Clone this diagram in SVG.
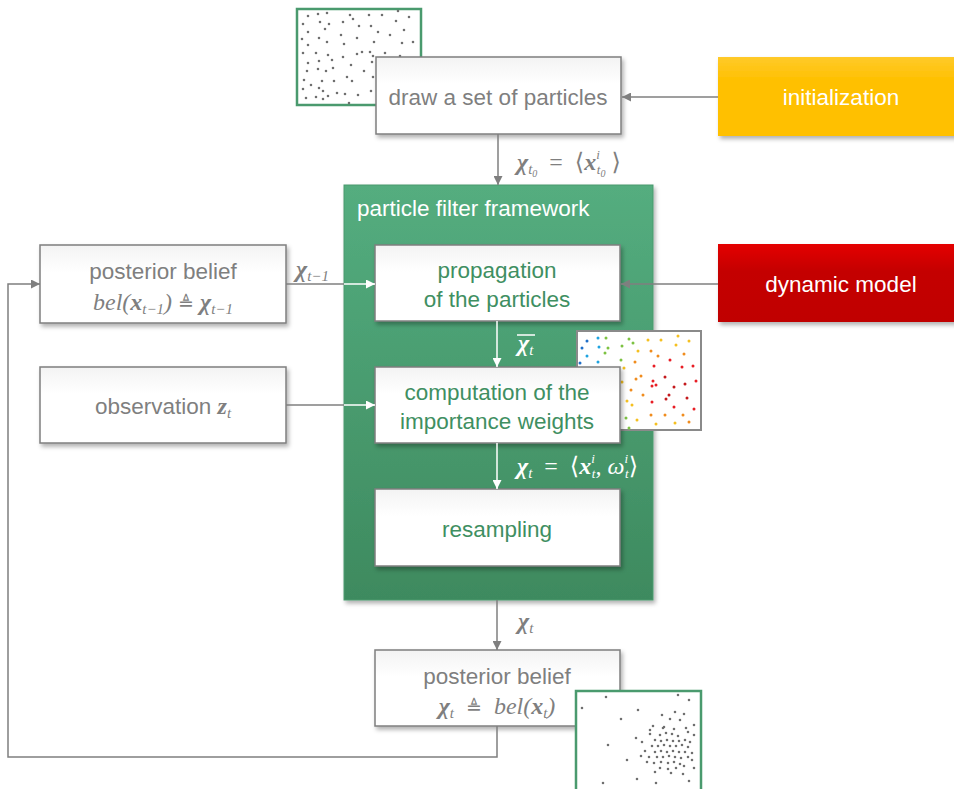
<svg xmlns="http://www.w3.org/2000/svg" width="954" height="789" viewBox="0 0 954 789">
  <defs>
    <style>
      .box { fill: url(#whiteGrad); stroke: #7f7f7f; stroke-width: 1.5; filter: url(#shadow); }
      .lbl { font-family: "Liberation Sans", Arial, sans-serif; font-size: 22.5px; text-anchor: middle; }
      .gray { fill: #7f7f7f; }
      .green { fill: #3f8f62; }
      .white { fill: #ffffff; }
      .math { font-family: "Liberation Serif", "DejaVu Serif", "Times New Roman", serif; font-style: italic; font-size: 24px; }
      .up { font-style: normal; }
      .eq { font-family: "DejaVu Sans", sans-serif; font-style: normal; font-size: 19px; }
      .b { font-weight: bold; }
      .sub { font-size: 15px; }
      .sc { font-size: 13px; }
      .ss { font-size: 10px; }
      .conn { fill: none; stroke: #7f7f7f; stroke-width: 1.5; }
      .connW { fill: none; stroke: #ffffff; stroke-width: 1.5; }
      .frame { fill: #ffffff; stroke: #4a9a6e; stroke-width: 2.5; }
      .dots { fill: none; stroke: #6f6f6f; stroke-width: 2.6; stroke-linecap: round; }
    </style>
    <linearGradient id="whiteGrad" x1="0" y1="0" x2="0" y2="1">
      <stop offset="0" stop-color="#f3f3f3"/>
      <stop offset="0.35" stop-color="#ffffff"/>
      <stop offset="1" stop-color="#ffffff"/>
    </linearGradient>
    <linearGradient id="greenGrad" x1="0" y1="0" x2="0" y2="1">
      <stop offset="0" stop-color="#54ad7f"/>
      <stop offset="1" stop-color="#3e8a5f"/>
    </linearGradient>
    <linearGradient id="yellowGrad" x1="0" y1="0" x2="0" y2="1">
      <stop offset="0" stop-color="#ffca2a"/>
      <stop offset="0.3" stop-color="#ffc000"/>
      <stop offset="1" stop-color="#ffc000"/>
    </linearGradient>
    <linearGradient id="redGrad" x1="0" y1="0" x2="0" y2="1">
      <stop offset="0" stop-color="#e40000"/>
      <stop offset="0.35" stop-color="#c40000"/>
      <stop offset="1" stop-color="#c00000"/>
    </linearGradient>
    <filter id="shadow" x="-10%" y="-10%" width="125%" height="135%">
      <feDropShadow dx="2" dy="3" stdDeviation="2" flood-color="#000" flood-opacity="0.3"/>
    </filter>
    <marker id="arrG" viewBox="0 0 10 10" refX="10" refY="5" markerWidth="9" markerHeight="9" markerUnits="userSpaceOnUse" orient="auto">
      <path d="M0 0 L10 5 L0 10 z" fill="#7f7f7f"/>
    </marker>
    <marker id="arrW" viewBox="0 0 10 10" refX="10" refY="5" markerWidth="9" markerHeight="9" markerUnits="userSpaceOnUse" orient="auto">
      <path d="M0 0 L10 5 L0 10 z" fill="#ffffff"/>
    </marker>
  </defs>

  <rect width="954" height="789" fill="#ffffff"/>

  <!-- initial particle cloud -->
  <g id="particles-initial">
    <rect class="frame" x="297" y="9" width="124" height="96"/>
    <path class="dots" d="M308 16h0M318 14h0M327 13h0M350 15h0M353 19h0M369 15h0M382 15h0M398 11h0M409 17h0M303 24h0M320 22h0M329 24h0M343 22h0M359 26h0M371 26h0M396 21h0M404 30h0M308 32h0M325 29h0M341 35h0M378 32h0M390 35h0M302 39h0M319 38h0M327 42h0M344 44h0M357 38h0M374 42h0M402 43h0M413 42h0M308 45h0M303 53h0M316 53h0M328 55h0M343 57h0M357 54h0M362 52h0M373 56h0M385 53h0M400 56h0M370 52h0M308 63h0M319 61h0M332 60h0M351 65h0M372 62h0M307 71h0M318 69h0M326 71h0M333 68h0M364 71h0M347 77h0M352 81h0M373 77h0M304 80h0M322 81h0M334 81h0M311 85h0M303 89h0M319 88h0M323 91h0M337 93h0M345 94h0M358 95h0M371 91h0M306 98h0M316 97h0M323 99h0M328 96h0M349 103h0"/>
  </g>

  <!-- draw a set of particles -->
  <g id="draw">
    <rect class="box" x="376" y="57" width="245" height="77"/>
    <text class="lbl gray" x="498" y="105">draw a set of particles</text>
  </g>

  <!-- initialization -->
  <g id="initialization">
    <rect x="718" y="57" width="240" height="79" fill="url(#yellowGrad)" filter="url(#shadow)"/>
    <text class="lbl white" x="841" y="105">initialization</text>
  </g>

  <!-- particle filter framework -->
  <g id="framework">
    <rect x="344" y="185" width="309" height="415" fill="url(#greenGrad)" stroke="#4a9a6e" stroke-width="1" filter="url(#shadow)"/>
    <text class="lbl white" x="357" y="216" style="text-anchor:start">particle filter framework</text>
  </g>

  <!-- weighted particle cloud -->
  <g id="particles-weighted">
    <rect x="577" y="331" width="124" height="99" fill="#ffffff" stroke="#8a8a8a" stroke-width="2"/>
    <g stroke-width="3" stroke-linecap="round" fill="none">
      <path stroke="#1f6fc9" d="M587 341h0M582 348h0M580 363h0"/>
      <path stroke="#1fa3e0" d="M598 338h0M599 347h0M587 356h0M598 362h0"/>
      <path stroke="#7dc242" d="M606 338h0M608 348h0M629 339h0M633 343h0M622 346h0M605 353h0M621 360h0M626 418h0M629 428h0"/>
      <path stroke="#f5c020" d="M648 340h0M661 340h0M678 336h0M689 341h0M676 345h0M638 351h0M624 368h0M622 382h0M627 401h0M632 405h0M637 420h0M656 424h0M675 423h0"/>
      <path stroke="#f08c1e" d="M651 351h0M658 356h0M684 354h0M635 362h0M641 376h0M636 379h0M631 390h0M643 395h0M651 415h0M665 415h0M683 415h0M689 422h0"/>
      <path stroke="#e81e25" d="M670 360h0M654 366h0M682 367h0M693 366h0M653 381h0M696 381h0M656 385h0M652 386h0M652 402h0M674 407h0M694 409h0"/>
      <path stroke="#c41a1e" d="M665 377h0M685 384h0M674 387h0M669 395h0M666 399h0M687 398h0"/>
    </g>
  </g>

  <!-- propagation -->
  <g id="propagation">
    <rect class="box" x="375" y="245" width="245" height="76"/>
    <text class="lbl green" x="497" y="278">propagation</text>
    <text class="lbl green" x="497" y="307">of the particles</text>
  </g>

  <!-- dynamic model -->
  <g id="dynamic-model">
    <rect x="718" y="244" width="240" height="78" fill="url(#redGrad)" filter="url(#shadow)"/>
    <text class="lbl white" x="841" y="292">dynamic model</text>
  </g>

  <!-- prior posterior belief -->
  <g id="posterior-prev">
    <rect class="box" x="40" y="245" width="246" height="78"/>
    <text class="lbl gray" x="163" y="279">posterior belief</text>
    <text class="math gray" x="163" y="310" text-anchor="middle">bel(<tspan class="b">x</tspan><tspan class="sub" dy="4">t−1</tspan><tspan dy="-4">)&#160;</tspan><tspan class="eq">≜</tspan><tspan>&#160;</tspan><tspan class="b">χ</tspan><tspan class="sub" dy="4">t−1</tspan></text>
  </g>

  <!-- importance weights -->
  <g id="computation">
    <rect class="box" x="375" y="367" width="245" height="76"/>
    <text class="lbl green" x="497" y="400">computation of the</text>
    <text class="lbl green" x="497" y="429">importance weights</text>
  </g>

  <!-- observation -->
  <g id="observation">
    <rect class="box" x="40" y="367" width="246" height="76"/>
    <text class="lbl gray" x="163" y="414"><tspan>observation&#160;</tspan><tspan class="math b">z</tspan><tspan class="math sub" dy="4">t</tspan></text>
  </g>

  <!-- resampling -->
  <g id="resampling">
    <rect class="box" x="375" y="489" width="245" height="77"/>
    <text class="lbl green" x="497" y="537">resampling</text>
  </g>

  <!-- resulting posterior belief -->
  <g id="posterior-new">
    <rect class="box" x="375" y="650" width="245" height="76"/>
    <text class="lbl gray" x="497" y="684">posterior belief</text>
    <text class="math gray" x="497" y="714" text-anchor="middle"><tspan class="b">χ</tspan><tspan class="sub" dy="4">t</tspan><tspan dy="-4">&#160;&#160;</tspan><tspan class="eq">≜</tspan><tspan>&#160;&#160;bel(</tspan><tspan class="b">x</tspan><tspan class="sub" dy="4">t</tspan><tspan dy="-4">)</tspan></text>
  </g>

  <!-- resampled particle cloud -->
  <g id="particles-resampled">
    <rect class="frame" x="576" y="691" width="125" height="102"/>
    <path class="dots" d="M606 697h0M678 695h0M689 700h0M582 708h0M638 710h0M621 719h0M662 715h0M675 712h0M684 714h0M670 719h0M680 720h0M694 725h0M653 726h0M663 728h0M674 729h0M688 732h0M650 734h0M636 738h0M694 735h0M608 745h0M627 760h0M603 783h0M637 779h0M656 783h0M689 781h0M683 774h0M694 768h0M660 735h0M666 733h0M672 734h0M678 736h0M655 740h0M661 741h0M667 740h0M673 741h0M679 741h0M685 740h0M652 746h0M658 746h0M664 745h0M670 746h0M676 746h0M682 745h0M688 747h0M655 752h0M661 751h0M667 752h0M673 751h0M679 752h0M685 752h0M649 757h0M657 757h0M663 757h0M669 756h0M675 757h0M681 758h0M688 757h0M654 763h0M661 762h0M668 763h0M674 762h0M680 764h0M645 751h0M647 762h0M660 768h0M668 769h0M676 768h0M684 766h0M692 760h0M642 742h0M690 742h0M650 730h0M686 728h0M664 727h0M655 772h0M671 773h0M692 753h0M641 756h0"/>
  </g>

  <!-- connectors -->
  <g id="connectors">
    <path class="conn" d="M718 97 H622" marker-end="url(#arrG)"/>
    <path class="conn" d="M498 134 V185" marker-end="url(#arrG)"/>
    <path class="conn" d="M718 284 H621" marker-end="url(#arrG)"/>
    <path class="conn" d="M286 284 H344"/>
    <path class="connW" d="M344 284 H375" marker-end="url(#arrW)"/>
    <path class="conn" d="M286 405 H344"/>
    <path class="connW" d="M344 405 H375" marker-end="url(#arrW)"/>
    <path class="connW" d="M497 321 V367" marker-end="url(#arrW)"/>
    <path class="connW" d="M497 443 V489" marker-end="url(#arrW)"/>
    <path class="conn" d="M497 600 V650" marker-end="url(#arrG)"/>
    <path class="conn" d="M497 726 V757 H8 V284 H40" marker-end="url(#arrG)"/>
  </g>

  <!-- connector labels -->
  <g id="connector-labels">
    <text class="math gray" x="517" y="170"><tspan class="b">χ</tspan><tspan class="sub" dy="4">t</tspan><tspan class="ss" dy="3">0</tspan><tspan class="up" dy="-7">&#160;&#160;=&#160;&#160;⟨</tspan><tspan class="b">x</tspan><tspan class="sc" dy="-11">i</tspan><tspan class="sc" dx="-3" dy="15">t</tspan><tspan class="ss" dy="3">0</tspan><tspan class="up" dy="-7">&#160;⟩</tspan></text>
    <text class="math gray" x="296" y="277"><tspan class="b">χ</tspan><tspan class="sub" dy="4">t−1</tspan></text>
    <text class="math white" x="518" y="351"><tspan class="b">χ</tspan><tspan class="sub" dy="4">t</tspan></text>
    <line x1="517" y1="335" x2="535" y2="335" stroke="#ffffff" stroke-width="1.5"/>
    <text class="math white" x="517" y="474"><tspan class="b">χ</tspan><tspan class="sub" dy="4">t</tspan><tspan class="up" dy="-4">&#160;&#160;=&#160;&#160;⟨</tspan><tspan class="b">x</tspan><tspan class="sc" dy="-11">i</tspan><tspan class="sc" dx="-3" dy="15">t</tspan><tspan dy="-4">,&#160;ω</tspan><tspan class="sc" dy="-11">i</tspan><tspan class="sc" dx="-3" dy="15">t</tspan><tspan class="up" dy="-4">⟩</tspan></text>
    <text class="math gray" x="518" y="629"><tspan class="b">χ</tspan><tspan class="sub" dy="4">t</tspan></text>
  </g>
</svg>
